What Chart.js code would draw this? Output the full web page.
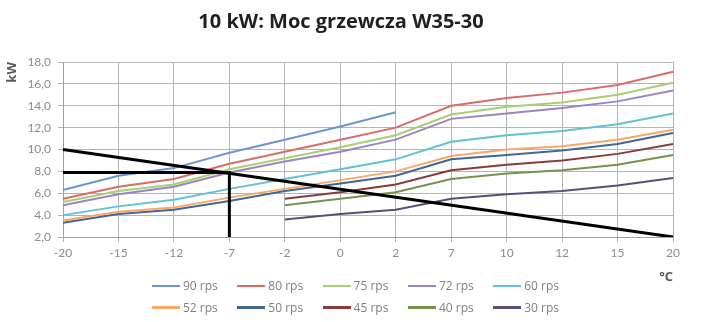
<!DOCTYPE html>
<html>
<head>
<meta charset="utf-8">
<script src="https://cdn.jsdelivr.net/npm/chart.js@4.4.0/dist/chart.umd.min.js"></script>
<style>
  html, body { margin: 0; padding: 0; background: #fff; }
  #wrap { position: relative; width: 706px; height: 322px; }
  #chartBox { position: absolute; left: 0; top: 0; width: 706px; height: 285px; }
  #title {
    position: absolute; left: 0; top: 7px; width: 682px; text-align: center;
    font-family: "Open Sans", sans-serif; font-weight: bold; font-size: 20px; color: #231f20;
  }
  #legend {
    position: absolute; left: 152px; top: 275px;
    display: grid; grid-template-columns: repeat(5, 85.3px); grid-auto-rows: 21.5px;
    font-family: "Open Sans", sans-serif; font-size: 12px; color: #808080;
  }
  .item { display: flex; align-items: center; }
  .swatch { width: 28px; height: 2.5px; margin-right: 3px; }
</style>
</head>
<body>
<div id="wrap">
  <div id="chartBox"><canvas id="chart"></canvas></div>
  <div id="title">10 kW: Moc grzewcza W35-30</div>
  <div id="legend"></div>
</div>
<script>
const temps = ["-20", "-15", "-12", "-7", "-2", "0", "2", "7", "10", "12", "15", "20"];

const rps90 = [6.3, 7.6, 8.3, 9.7, 10.9, 12.1, 13.4, null, null, null, null, null];
const rps80 = [5.5, 6.6, 7.3, 8.7, 9.8, 10.9, 12.0, 14.0, 14.7, 15.2, 15.9, 17.1];
const rps75 = [5.2, 6.2, 6.8, 8.2, 9.2, 10.2, 11.3, 13.2, 13.9, 14.3, 15.0, 16.1];
const rps72 = [4.9, 5.9, 6.6, 7.9, 8.9, 9.8, 10.9, 12.8, 13.3, 13.8, 14.4, 15.4];
const rps60 = [4.0, 4.8, 5.4, 6.4, 7.3, 8.2, 9.1, 10.7, 11.3, 11.7, 12.3, 13.3];
const rps52 = [3.5, 4.3, 4.7, 5.6, 6.4, 7.2, 8.0, 9.4, 10.0, 10.3, 10.9, 11.8];
const rps50 = [3.3, 4.1, 4.5, 5.3, 6.2, 6.9, 7.6, 9.1, 9.5, 9.9, 10.5, 11.5];
const rps45 = [null, null, null, null, 5.5, 6.1, 6.8, 8.1, 8.6, 9.0, 9.6, 10.5];
const rps40 = [null, null, null, null, 4.9, 5.5, 6.1, 7.3, 7.8, 8.1, 8.6, 9.5];
const rps30 = [null, null, null, null, 3.6, 4.1, 4.5, 5.5, 5.9, 6.2, 6.7, 7.4];

// heating demand line and the read-off at -7 °C
const demand = [10.0, null, null, null, null, null, null, null, null, null, null, 2.0];
const readOff = [{x: "-20", y: 7.9}, {x: "-7", y: 7.9}, {x: "-7", y: 2.0}];

const seriesLabels = ["90 rps", "80 rps", "75 rps", "72 rps", "60 rps", "52 rps", "50 rps", "45 rps", "40 rps", "30 rps"];
const seriesData = [rps90, rps80, rps75, rps72, rps60, rps52, rps50, rps45, rps40, rps30];
const seriesColors = ["#6f95d0", "#d86d68", "#a9cf73", "#9b84c2", "#62c1d7", "#f9a866", "#42659b", "#8b3a38", "#77934a", "#5e4c78"];

const datasets = [
  {data: demand, borderColor: "#000", borderWidth: 3, spanGaps: true, order: 0},
  {data: readOff, borderColor: "#000", borderWidth: 3, order: 0}
];
seriesLabels.forEach((lab, i) => {
  datasets.push({
    label: lab,
    data: seriesData[i],
    borderColor: seriesColors[i],
    backgroundColor: seriesColors[i],
    borderWidth: 2,
    order: 1
  });
});

const chart = new Chart(document.getElementById("chart"), {
  type: "line",
  data: { labels: temps, datasets: datasets },
  options: {
    responsive: true,
    maintainAspectRatio: false,
    animation: false,
    layout: { padding: { left: 4, right: 33, top: 62, bottom: 0 } },
    elements: { point: { radius: 0 }, line: { tension: 0 } },
    plugins: {
      legend: { display: false },
      tooltip: { enabled: false }
    },
    scales: {
      x: {
        type: "category",
        offset: false,
        grid: { color: "#b5b5b5", tickLength: 5, offset: false },
        border: { color: "#a0a0a0" },
        ticks: { color: "#8c8c8c", font: { family: "Lato", size: 12 }, padding: 4, maxRotation: 0 },
        title: { display: true, text: "°C", align: "end", color: "#595959",
                 font: { family: "Open Sans", size: 13, weight: "bold" }, padding: { top: 5, bottom: 0 } }
      },
      y: {
        min: 2, max: 18,
        grid: { color: "#b5b5b5", tickLength: 5 },
        border: { color: "#a0a0a0" },
        ticks: { stepSize: 2, color: "#8c8c8c", font: { family: "Lato", size: 12 }, padding: 7,
                 callback: v => v.toFixed(1).replace(".", ",") },
        title: { display: true, text: "kW", align: "end", color: "#595959",
                 font: { family: "Open Sans", size: 13, weight: "bold" }, padding: { top: 0, bottom: 4 } },
        afterFit: s => { s.width = 59; }
      }
    }
  }
});

const legendDiv = document.getElementById("legend");
chart.data.datasets.filter(d => d.label).forEach(d => {
  const item = document.createElement("div");
  item.className = "item";
  item.innerHTML = `<span class="swatch" style="background:${d.borderColor}"></span><span>${d.label}</span>`;
  legendDiv.appendChild(item);
});
</script>
</body>
</html>
